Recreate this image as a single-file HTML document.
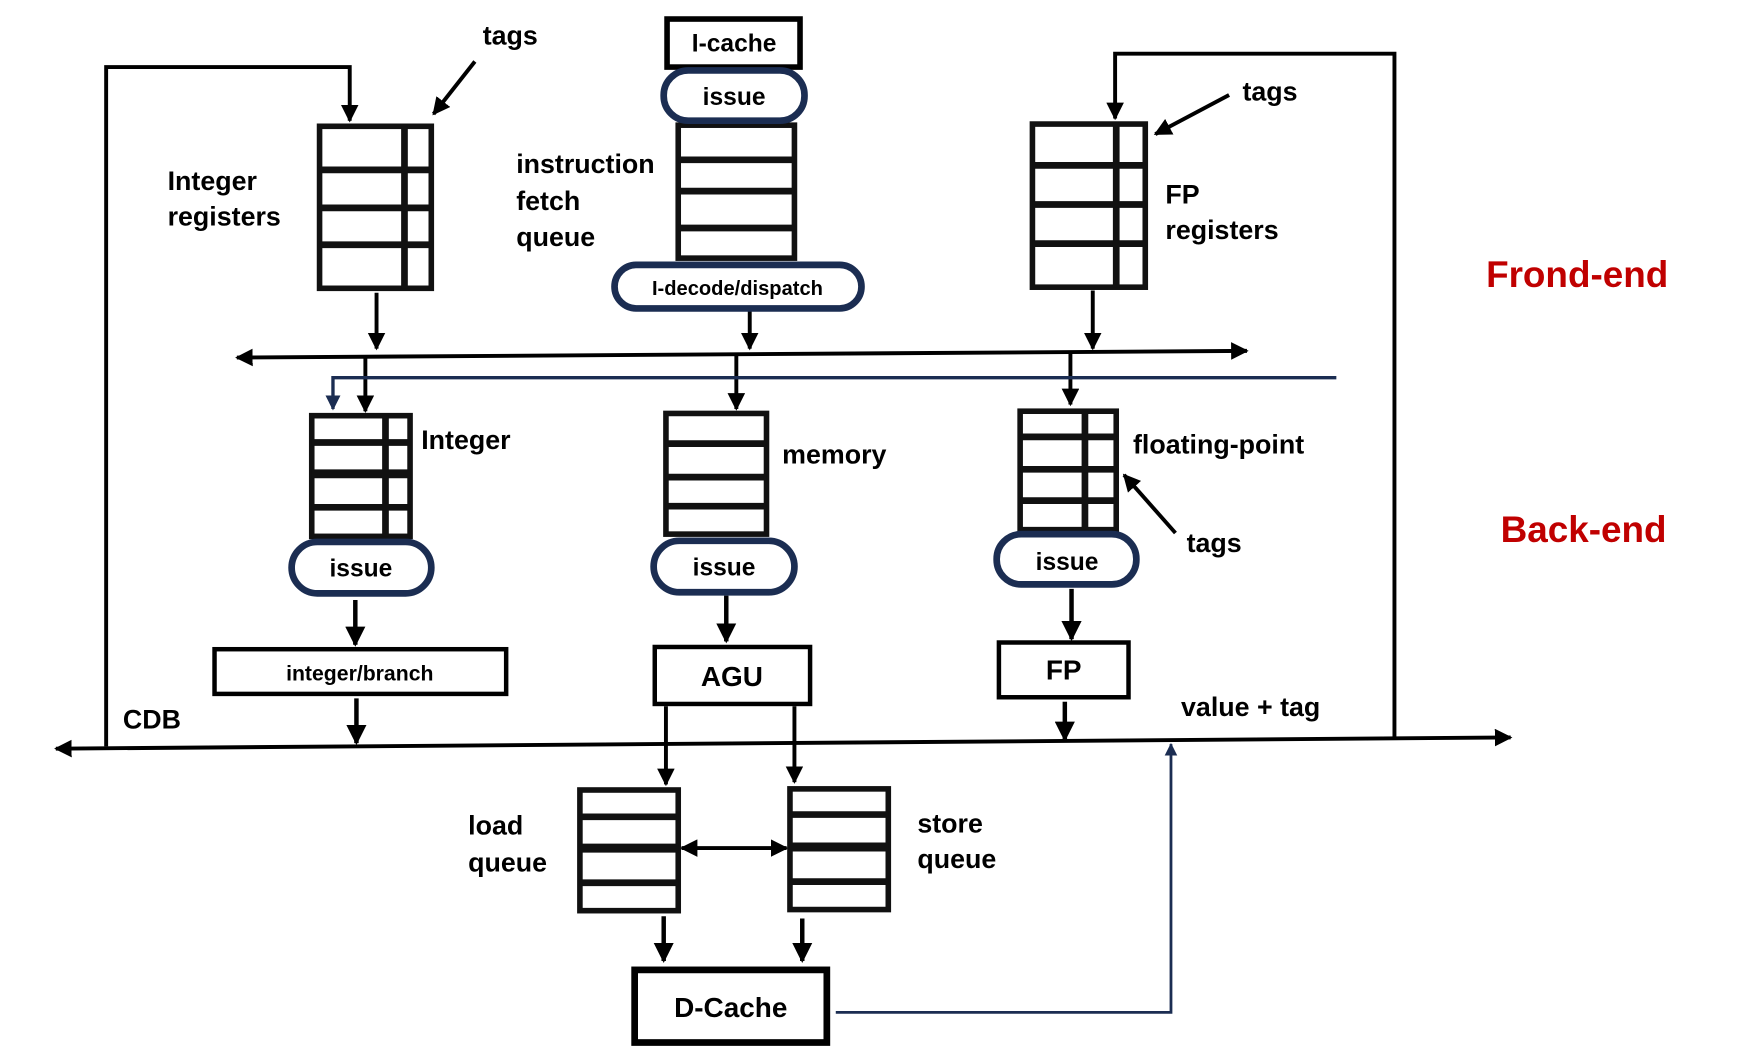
<!DOCTYPE html>
<html><head><meta charset="utf-8"><style>
html,body{margin:0;padding:0;background:#fff;}
svg{display:block;}
text{font-family:"Liberation Sans",sans-serif;font-weight:bold;fill:#000;}
</style></head><body>
<svg width="1752" height="1064" viewBox="0 0 1568 952.2" xmlns="http://www.w3.org/2000/svg">
<defs>
<marker id="a" viewBox="0 0 10 10" refX="9" refY="5" markerWidth="4.5" markerHeight="4.5" orient="auto-start-reverse"><path d="M0,0 L10,5 L0,10 z" fill="#000"/></marker>
<marker id="n" viewBox="0 0 10 10" refX="9" refY="5" markerWidth="4.5" markerHeight="4.5" orient="auto-start-reverse"><path d="M0,0 L10,5 L0,10 z" fill="#1b2d52"/></marker>
</defs>
<g fill="none" stroke="#000" stroke-width="3.5">
<polyline points="95,668 95,60 313,60 313,108" marker-end="url(#a)"/>
<line x1="425" y1="55" x2="388" y2="102" marker-end="url(#a)"/>
<polyline points="1248,660 1248,48 998,48 998,106" marker-end="url(#a)"/>
<line x1="1100" y1="85" x2="1034" y2="120" marker-end="url(#a)"/>
<line x1="1052" y1="477" x2="1006" y2="425" marker-end="url(#a)"/>
<line x1="337" y1="262" x2="337" y2="312" marker-end="url(#a)"/>
<line x1="671" y1="278" x2="671" y2="312" marker-end="url(#a)"/>
<line x1="978" y1="260" x2="978" y2="312" marker-end="url(#a)"/>
<line x1="212" y1="320" x2="1116" y2="314" marker-start="url(#a)" marker-end="url(#a)"/>
<line x1="327" y1="319" x2="327" y2="368" marker-end="url(#a)"/>
<line x1="659" y1="317" x2="659" y2="366" marker-end="url(#a)"/>
<line x1="958" y1="315" x2="958" y2="362" marker-end="url(#a)"/>
<line x1="318" y1="537" x2="318" y2="577" marker-end="url(#a)" stroke-width="4"/>
<line x1="319" y1="625" x2="319" y2="665" marker-end="url(#a)" stroke-width="4"/>
<line x1="650" y1="533" x2="650" y2="574" marker-end="url(#a)" stroke-width="4"/>
<line x1="959" y1="527" x2="959" y2="572" marker-end="url(#a)" stroke-width="4"/>
<line x1="953" y1="628" x2="953" y2="662" marker-end="url(#a)" stroke-width="4"/>
<line x1="596" y1="632" x2="596" y2="702" marker-end="url(#a)"/>
<line x1="711" y1="632" x2="711" y2="700" marker-end="url(#a)"/>
<line x1="50" y1="670" x2="1352" y2="660" marker-start="url(#a)" marker-end="url(#a)"/>
<line x1="610" y1="759" x2="704" y2="759" marker-start="url(#a)" marker-end="url(#a)"/>
<line x1="594" y1="820" x2="594" y2="860" marker-end="url(#a)" stroke-width="4"/>
<line x1="718" y1="822" x2="718" y2="860" marker-end="url(#a)" stroke-width="4"/>
</g>
<g fill="none" stroke="#1b2d52" stroke-width="3">
<polyline points="1196,338 298,338 298,366" marker-end="url(#n)"/>
<polyline points="748,906 1048,906 1048,666" marker-end="url(#n)" stroke-width="2.5"/>
</g>
<g fill="#fff" stroke="#111" stroke-width="5">
<rect x="286" y="113" width="100" height="145"/>
<rect x="607" y="112" width="104" height="119"/>
<rect x="924" y="111" width="101" height="146"/>
<rect x="279" y="372" width="88" height="108"/>
<rect x="596" y="370" width="90" height="108"/>
<rect x="913" y="368" width="86" height="106"/>
<rect x="519" y="707" width="88" height="108"/>
<rect x="707" y="706" width="88" height="108"/>
</g>
<g stroke="#111" stroke-width="6">
<line x1="362" y1="113" x2="362" y2="258"/>
<line x1="286" y1="152" x2="386" y2="152"/><line x1="286" y1="186" x2="386" y2="186"/><line x1="286" y1="219" x2="386" y2="219"/>
<line x1="607" y1="143" x2="711" y2="143"/><line x1="607" y1="171" x2="711" y2="171"/><line x1="607" y1="204" x2="711" y2="204"/>
<line x1="999" y1="111" x2="999" y2="257"/>
<line x1="924" y1="148" x2="1025" y2="148"/><line x1="924" y1="183" x2="1025" y2="183"/><line x1="924" y1="218" x2="1025" y2="218"/>
<line x1="345" y1="372" x2="345" y2="480"/>
<line x1="279" y1="396" x2="367" y2="396"/><line x1="279" y1="424" x2="367" y2="424" stroke-width="8"/><line x1="279" y1="454" x2="367" y2="454"/>
<line x1="596" y1="397" x2="686" y2="397"/><line x1="596" y1="427" x2="686" y2="427"/><line x1="596" y1="453" x2="686" y2="453"/>
<line x1="971" y1="368" x2="971" y2="474"/>
<line x1="913" y1="391" x2="999" y2="391"/><line x1="913" y1="420" x2="999" y2="420"/><line x1="913" y1="448" x2="999" y2="448"/>
<line x1="519" y1="731" x2="607" y2="731"/><line x1="519" y1="759" x2="607" y2="759" stroke-width="8"/><line x1="519" y1="790" x2="607" y2="790"/>
<line x1="707" y1="729" x2="795" y2="729"/><line x1="707" y1="758" x2="795" y2="758" stroke-width="8"/><line x1="707" y1="789" x2="795" y2="789"/>
</g>
<g fill="#fff" stroke="#000">
<rect x="597" y="17" width="119" height="43" stroke-width="5"/>
<rect x="192" y="581" width="261" height="40" stroke-width="4"/>
<rect x="586" y="579" width="139" height="51" stroke-width="4"/>
<rect x="894" y="575" width="116" height="49" stroke-width="4"/>
<rect x="568" y="868" width="172" height="65" stroke-width="6"/>
</g>
<g fill="#fff" stroke="#1b2d52" stroke-width="6">
<rect x="594" y="63" width="126" height="45" rx="22"/>
<rect x="550" y="237" width="221" height="39" rx="19.5"/>
<rect x="261" y="485" width="125" height="46" rx="23"/>
<rect x="585" y="484" width="126" height="46" rx="23"/>
<rect x="892" y="478" width="125" height="45" rx="22"/>
</g>
<g font-size="24">
<text x="432" y="40">tags</text>
<text x="150" y="170">Integer</text>
<text x="150" y="202">registers</text>
<text x="657" y="46" text-anchor="middle" font-size="22">I-cache</text>
<text x="657" y="94" text-anchor="middle" font-size="22">issue</text>
<text x="462" y="155">instruction</text>
<text x="462" y="188">fetch</text>
<text x="462" y="220">queue</text>
<text x="660" y="264" text-anchor="middle" font-size="18">I-decode/dispatch</text>
<text x="1112" y="90">tags</text>
<text x="1043" y="182">FP</text>
<text x="1043" y="214">registers</text>
<text x="377" y="402">Integer</text>
<text x="323" y="516" text-anchor="middle" font-size="22">issue</text>
<text x="322" y="609" text-anchor="middle" font-size="19">integer/branch</text>
<text x="700" y="415">memory</text>
<text x="648" y="515" text-anchor="middle" font-size="22">issue</text>
<text x="655" y="614" text-anchor="middle" font-size="25">AGU</text>
<text x="1014" y="406">floating-point</text>
<text x="1062" y="494">tags</text>
<text x="955" y="510" text-anchor="middle" font-size="22">issue</text>
<text x="952" y="608" text-anchor="middle" font-size="25">FP</text>
<text x="110" y="652">CDB</text>
<text x="1057" y="641">value + tag</text>
<text x="419" y="747">load</text>
<text x="419" y="780">queue</text>
<text x="821" y="745">store</text>
<text x="821" y="777">queue</text>
<text x="654" y="910" text-anchor="middle" font-size="25">D-Cache</text>
<text x="1330" y="257" font-size="33" style="fill:#c00000">Frond-end</text>
<text x="1343" y="485" font-size="33" style="fill:#c00000">Back-end</text>
</g>
</svg>
</body></html>
